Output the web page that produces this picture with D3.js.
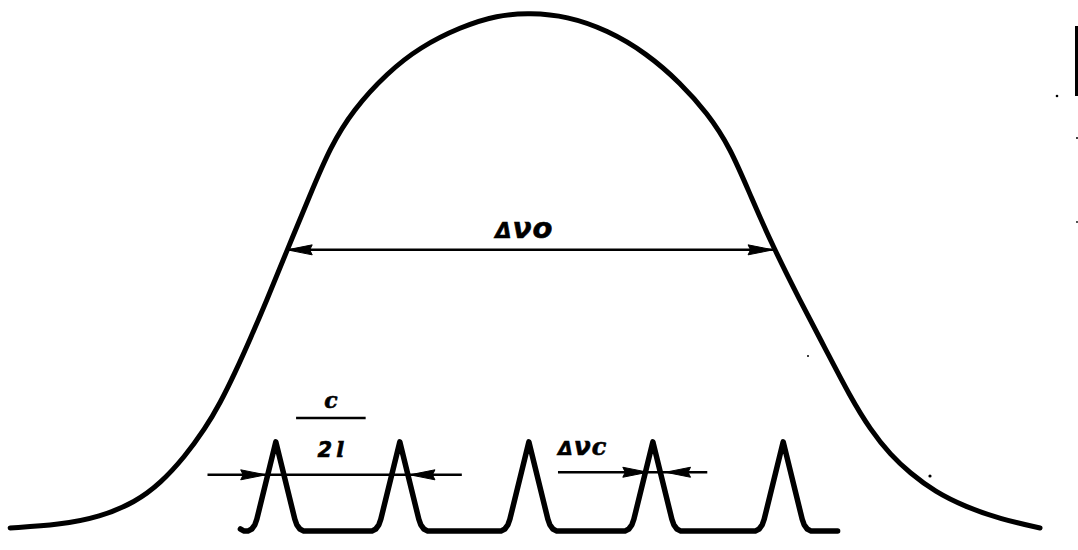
<!DOCTYPE html>
<html>
<head>
<meta charset="utf-8">
<script src="https://cdn.jsdelivr.net/npm/d3@7"></script>
<style>
  html, body { margin: 0; background: #fff; }
  svg { display: block; }
  text { font-family: "DejaVu Sans", sans-serif; font-weight: bold; font-style: italic; fill: #000; stroke: #000; stroke-width: 0.6; }
  .hand { font-family: "DejaVu Serif", serif; }
</style>
</head>
<body>
<svg id="chart" width="1078" height="550"></svg>
<script>
// Gain envelope: frequency offset (in units of mode spacing) and relative gain
const gainFreq  = [-4.11, -3.72, -3.40, -3.12, -2.92, -2.73, -2.57, -2.45, -2.33, -2.21, -2.09, -1.92, -1.74, -1.58, -1.40, -1.13, -0.87, -0.55, -0.26, 0.00, 0.29, 0.61, 0.92, 1.19, 1.40, 1.58, 1.75, 1.92, 2.13, 2.33, 2.53, 2.69, 2.85, 3.00, 3.20, 3.44, 3.72, 4.03];
const gainValue = [0.002, 0.008, 0.023, 0.052, 0.089, 0.140, 0.194, 0.244, 0.304, 0.370, 0.438, 0.541, 0.647, 0.740, 0.812, 0.884, 0.934, 0.973, 0.996, 1.000, 0.994, 0.967, 0.922, 0.864, 0.806, 0.740, 0.641, 0.547, 0.444, 0.351, 0.256, 0.192, 0.143, 0.109, 0.072, 0.043, 0.019, 0.002];

// Longitudinal cavity modes
const modeFreq = [-2.01, -1.03, -0.01, 0.97, 2.00];
// Shape of one mode line: offset from its centre and intensity
const profileOffset = [-0.221, -0.190, -0.166, -0.150, 0.000, 0.150, 0.166, 0.190, 0.221];
const profileValue  = [-0.004, 0.000, 0.008, 0.019, 0.169, 0.019, 0.008, 0.000, -0.004];
const combRange = [-2.29, 2.43];
const combBase = -0.004;

// Annotations
const fwhmLevel = 0.541, fwhmEdges = [-1.92, 1.92];
const spacingLevel = 0.105, spacingLine = [-2.55, -0.54], spacingTips = [-2.09, -0.95];
const widthLevel = 0.110, widthLine = [0.22, 1.40], widthTips = [0.93, 1.07];
const fractionLine = [-1.85, -1.30], fractionLevel = 0.215;

const svg = d3.select("#chart");
const x = d3.scaleLinear().domain([-4.19, 4.33]).range([0, 1078]);
const y = d3.scaleLinear().domain([0, 1]).range([529, 13]);

const smooth = d3.line().x(d => x(d[0])).y(d => y(d[1])).curve(d3.curveBasis);
const sharp = d3.line().x(d => x(d[0])).y(d => y(d[1]));

// Gain curve
const env = gainFreq.map((f, i) => [f, gainValue[i]]);
env.unshift(env[0]); env.push(env[env.length - 1]);
svg.append("path")
  .datum(env)
  .attr("d", smooth)
  .attr("fill", "none").attr("stroke", "#000")
  .attr("stroke-width", 5).attr("stroke-linecap", "round").attr("stroke-linejoin", "round");

// Mode comb
const comb = [[combRange[0], combBase + 0.004], [combRange[0] + 0.03, combBase]];
modeFreq.forEach(m => profileOffset.forEach((o, i) => comb.push([m + o, profileValue[i]])));
comb.push([combRange[1], combBase]);
svg.append("path")
  .datum(comb)
  .attr("d", sharp)
  .attr("fill", "none").attr("stroke", "#000")
  .attr("stroke-width", 5.5).attr("stroke-linecap", "round").attr("stroke-linejoin", "round");

// Dimension lines with arrowheads
const ann = svg.append("g");
function hline(a, b, level) {
  ann.append("line")
    .attr("x1", x(a)).attr("x2", x(b)).attr("y1", y(level)).attr("y2", y(level))
    .attr("stroke", "#000").attr("stroke-width", 2.5);
}
function head(tip, level, dir) {
  // dir = -1 points left, +1 points right
  const tx = x(tip), ty = y(level), len = 25, hw = 5;
  ann.append("path")
    .attr("d", `M${tx},${ty} L${tx - dir * len},${ty - hw} L${tx - dir * len * 0.9},${ty} L${tx - dir * len},${ty + hw} Z`)
    .attr("fill", "#000").attr("stroke", "#000").attr("stroke-width", 1).attr("stroke-linejoin", "round");
}

hline(fwhmEdges[0], fwhmEdges[1], fwhmLevel);
head(fwhmEdges[0], fwhmLevel, -1);
head(fwhmEdges[1], fwhmLevel, 1);

hline(spacingLine[0], spacingLine[1], spacingLevel);
head(spacingTips[0], spacingLevel, 1);
head(spacingTips[1], spacingLevel, -1);

hline(widthLine[0], widthLine[1], widthLevel);
head(widthTips[0], widthLevel, 1);
head(widthTips[1], widthLevel, -1);

// Fraction bar of c/2l
hline(fractionLine[0], fractionLine[1], fractionLevel);

// Labels
const t0 = ann.append("text")
  .attr("x", x(-0.05)).attr("y", y(fwhmLevel) - 12)
  .attr("text-anchor", "middle").attr("font-size", 21);
t0.append("tspan").text("Δ");
t0.append("tspan").attr("font-size", 28).attr("dx", 1).text("ν");
t0.append("tspan").attr("font-size", 29).attr("dx", 1).text("o");

const fc = (fractionLine[0] + fractionLine[1]) / 2;
ann.append("text").attr("class", "hand").attr("x", x(fc)).attr("y", y(fractionLevel) - 10)
  .attr("text-anchor", "middle").attr("font-size", 22).text("c");
const t2 = ann.append("text").attr("x", x(fc)).attr("y", y(fractionLevel) + 39)
  .attr("text-anchor", "middle").attr("font-size", 21);
t2.append("tspan").text("2");
t2.append("tspan").attr("class", "hand").attr("dx", 4).text("l");

const t1 = ann.append("text")
  .attr("x", x(widthLine[0])).attr("y", y(widthLevel) - 17)
  .attr("font-size", 19);
t1.append("tspan").text("Δ");
t1.append("tspan").attr("font-size", 25).attr("dx", 1).text("ν");
t1.append("tspan").attr("class", "hand").attr("font-size", 24).attr("dx", 1).text("c");

// Stray ink marks along the margin
const marks = svg.append("g").attr("fill", "#000");
marks.append("rect").attr("x", 1075).attr("y", 26).attr("width", 3).attr("height", 70);
[[1057, 96, 1.3], [1077, 138, 1], [1077, 222, 0.9], [808, 356, 1], [930, 476, 1.6]].forEach(d =>
  marks.append("circle").attr("cx", d[0]).attr("cy", d[1]).attr("r", d[2]));
</script>
</body>
</html>
